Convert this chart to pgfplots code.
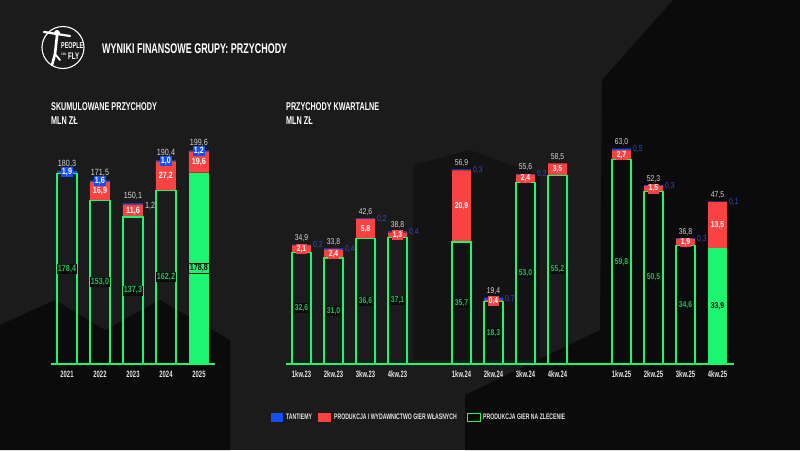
\documentclass[border=0pt]{standalone}
\usepackage{pgfplots}
\pgfplotsset{compat=1.18}
\usepackage{fontspec}
\setmainfont{Liberation Sans}
\newfontfamily\cond{Liberation Sans}[FakeStretch=0.64]
\newfontfamily\numf{Liberation Sans}[FakeStretch=0.8]

\definecolor{bg}{RGB}{27,27,27}
\definecolor{bgdark}{RGB}{11,11,11}
\definecolor{pgreen}{RGB}{28,245,112}
\definecolor{pgreentxt}{RGB}{24,196,88}
\definecolor{pred}{RGB}{250,66,66}
\definecolor{pblue}{RGB}{22,78,245}
\definecolor{pbluetxt}{RGB}{36,78,220}
\definecolor{ptot}{RGB}{212,212,212}
\definecolor{ptick}{RGB}{228,228,228}

\setlength{\fboxsep}{1.2pt}
\newcommand\nz[1]{\pgfmathfloatifflags{\pgfplotspointmeta}{0}{}{#1}}
\newcommand\nm{\pgfmathprintnumber{\pgfplotspointmeta}}

\pgfplotsset{
  numfmt/.style={
    /pgf/number format/fixed, /pgf/number format/fixed zerofill,
    /pgf/number format/precision=1, /pgf/number format/use comma,
    /pgf/number format/assume math mode=true,
  },
  pcf/.style={
    scale only axis, clip=false,
    ybar stacked, ymin=0,
    axis y line=none, axis x line*=bottom,
    x axis line style={draw=pgreen, line width=1.2pt},
    ytick=\empty, major tick length=0pt,
    xtick style={draw=none},
    xticklabel style={font=\cond\bfseries\fontsize{9.2}{10}\selectfont, text=ptick, anchor=base, yshift=-13.8pt},
    numfmt,
  },
  ovl/.style={
    scale only axis, clip=false, hide axis, ymin=0, numfmt,
  },
  midlab/.style={
    point meta=explicit,
    nodes near coords={\nz{#1}},
    every node near coord/.append style={anchor=center, inner sep=0pt},
  },
  toplab/.style={
    draw=none, mark=none, point meta=explicit,
    nodes near coords={\nz{#1}},
    every node near coord/.append style={anchor=base, inner sep=0pt},
  },
  sidelab/.style={
    point meta=explicit,
    nodes near coords={\nz{#1}},
    every node near coord/.append style={anchor=west, inner sep=0pt},
  },
}

\begin{document}
\begin{tikzpicture}
% background
\fill[bg] (0pt,0pt) rectangle (800pt,-450pt);
\fill[bgdark] (673pt,0pt) -- (800pt,0pt) -- (800pt,-450pt) -- (465pt,-450pt) -- (465pt,-395pt) -- (600pt,-330pt) -- (602pt,-80pt) -- cycle;
\fill[bgdark] (0pt,-325pt) -- (55pt,-300pt) -- (105pt,-330pt) -- (160pt,-300pt) -- (230pt,-340pt) -- (230pt,-450pt) -- (0pt,-450pt) -- cycle;
\fill[bgdark!50!bg] (413pt,-165pt) -- (470pt,-150pt) -- (540pt,-175pt) -- (540pt,-360pt) -- (413pt,-360pt) -- cycle;

% logo
\draw[white, line width=1.1pt] (63pt,-47.5pt) circle (21pt);
\fill[white] (57pt,-33pt) circle (3pt);
\draw[white, line width=2.2pt, line cap=round] (44pt,-32pt) -- (70pt,-36pt);
\draw[white, line width=2.6pt, line cap=round] (57pt,-36pt) -- (55pt,-54pt) -- (52pt,-65pt);
\draw[white, line width=1.8pt, line cap=round] (55pt,-54pt) -- (60pt,-60pt);
\node[anchor=base west, inner sep=0pt, text=white, font=\cond\bfseries\fontsize{8.5}{8.5}\selectfont] at (61pt,-48.5pt) {PEOPLE};
\node[anchor=base west, inner sep=0pt, text=white, font=\cond\bfseries\fontsize{3.5}{3.5}\selectfont] at (61pt,-55pt) {CAN};
\node[anchor=base west, inner sep=0pt, text=white, font=\cond\bfseries\fontsize{9.5}{9.5}\selectfont] at (68pt,-59.5pt) {FLY};

% titles
\node[anchor=base west, inner sep=0pt, text=white, font=\cond\bfseries\fontsize{14}{14}\selectfont] at (102pt,-53pt) {WYNIKI FINANSOWE GRUPY: PRZYCHODY};
\node[anchor=base west, inner sep=0pt, text=white, font=\cond\bfseries\fontsize{11.3}{12}\selectfont] at (51pt,-110pt) {SKUMULOWANE PRZYCHODY};
\node[anchor=base west, inner sep=0pt, text=white, font=\cond\bfseries\fontsize{11.3}{12}\selectfont] at (51pt,-124.5pt) {MLN ZŁ};
\node[anchor=base west, inner sep=0pt, text=white, font=\cond\bfseries\fontsize{11.3}{12}\selectfont] at (286pt,-110pt) {PRZYCHODY KWARTALNE};
\node[anchor=base west, inner sep=0pt, text=white, font=\cond\bfseries\fontsize{11.3}{12}\selectfont] at (286pt,-124.5pt) {MLN ZŁ};

% ---------- left chart: cumulative ----------
\begin{axis}[pcf, at={(50.5pt,-364pt)}, anchor=south west,
  width=165pt, height=235.4pt, xmin=-0.5, xmax=4.5, ymax=220, bar width=20pt,
  xtick={0,1,2,3,4}, xticklabels={2021,2022,2023,2024,2025},
  every node near coord/.append style={font=\numf\fontsize{9}{9}\selectfont},
]
\addplot[draw=pgreen, line width=1.2pt, fill=none,
  midlab={\colorbox{bgdark}{\textcolor{pgreentxt}{\bfseries\nm}}}]
  coordinates {(0,178.4)[178.4] (1,153.0)[153.0] (2,137.3)[137.3] (3,162.2)[162.2] (4,0)[0]};
\addplot[draw=none, fill=pgreen,
  midlab={\fcolorbox{bgdark}{pgreen}{\textcolor{bgdark}{\bfseries\nm}}}]
  coordinates {(0,0)[0] (1,0)[0] (2,0)[0] (3,0)[0] (4,178.8)[178.8]};
\addplot[draw=none, fill=pred,
  midlab={\colorbox{pred}{\textcolor{white}{\bfseries\nm}}}]
  coordinates {(0,0)[0] (1,16.9)[16.9] (2,11.6)[11.6] (3,27.2)[27.2] (4,19.6)[19.6]};
\addplot[draw=none, fill=pblue,
  midlab={\colorbox{pblue}{\textcolor{white}{\bfseries\nm}}}]
  coordinates {(0,1.9)[1.9] (1,1.6)[1.6] (2,1.2)[0] (3,1.0)[1.0] (4,1.2)[1.2]};
\end{axis}
% left labels overlay (totals and side label)
\begin{axis}[ovl, at={(50.5pt,-364pt)}, anchor=south west,
  width=165pt, height=235.4pt, xmin=-0.5, xmax=4.5, ymax=220,
  every node near coord/.append style={font=\numf\fontsize{9}{9}\selectfont},
]
\addplot[toplab={\textcolor{ptot}{\nm}}, every node near coord/.append style={yshift=5pt}]
  coordinates {(0,180.3)[180.3] (1,171.5)[171.5] (2,150.1)[150.1] (3,190.4)[190.4] (4,199.6)[199.6]};
\addplot[toplab={\textcolor{ptot}{\nm}}, every node near coord/.append style={anchor=west, xshift=12pt, yshift=-3pt}]
  coordinates {(2,150.1)[1.2]};
\end{axis}

% ---------- right chart: quarterly ----------
\begin{axis}[pcf, at={(285.5pt,-364pt)}, anchor=south west,
  width=448pt, height=239.4pt, xmin=-0.5, xmax=13.5, ymax=70, bar width=19pt,
  xtick={0,1,2,3,5,6,7,8,10,11,12,13},
  xticklabels={1kw.23,2kw.23,3kw.23,4kw.23,1kw.24,2kw.24,3kw.24,4kw.24,1kw.25,2kw.25,3kw.25,4kw.25},
  every node near coord/.append style={font=\numf\fontsize{8.5}{9}\selectfont},
]
\addplot[draw=pgreen, line width=1.2pt, fill=none,
  midlab={\colorbox{bgdark}{\textcolor{pgreentxt}{\bfseries\nm}}}]
  coordinates {(0,32.6)[32.6] (1,31.0)[31.0] (2,36.6)[36.6] (3,37.1)[37.1]
               (5,35.7)[35.7] (6,18.3)[18.3] (7,53.0)[53.0] (8,55.2)[55.2]
               (10,59.8)[59.8] (11,50.5)[50.5] (12,34.6)[34.6] (13,0)[0]};
\addplot[draw=none, fill=pgreen,
  midlab={\textcolor{bgdark}{\bfseries\nm}}]
  coordinates {(0,0)[0] (1,0)[0] (2,0)[0] (3,0)[0]
               (5,0)[0] (6,0)[0] (7,0)[0] (8,0)[0]
               (10,0)[0] (11,0)[0] (12,0)[0] (13,33.9)[33.9]};
\addplot[draw=none, fill=pred,
  midlab={\colorbox{pred}{\textcolor{white}{\bfseries\nm}}}]
  coordinates {(0,2.1)[2.1] (1,2.4)[2.4] (2,5.8)[5.8] (3,1.3)[1.3]
               (5,20.9)[20.9] (6,0.4)[0.4] (7,2.4)[2.4] (8,3.5)[3.5]
               (10,2.7)[2.7] (11,1.5)[1.5] (12,1.9)[1.9] (13,13.5)[13.5]};
\addplot[draw=none, fill=pblue, sidelab={\textcolor{pbluetxt}{\nm}},
  every node near coord/.append style={xshift=11.5pt}]
  coordinates {(0,0.2)[0.2] (1,0.4)[0.4] (2,0.2)[0.2] (3,0.4)[0.4]
               (5,0.3)[0.3] (6,0.7)[0.7] (7,0.2)[0.2] (8,0)[0]
               (10,0.5)[0.5] (11,0.3)[0.3] (12,0.3)[0.3] (13,0.1)[0.1]};
\end{axis}
% right totals overlay
\begin{axis}[ovl, at={(285.5pt,-364pt)}, anchor=south west,
  width=448pt, height=239.4pt, xmin=-0.5, xmax=13.5, ymax=70,
  every node near coord/.append style={font=\numf\fontsize{8.5}{9}\selectfont},
]
\addplot[toplab={\textcolor{ptot}{\nm}}, every node near coord/.append style={yshift=4pt}]
  coordinates {(0,34.9)[34.9] (1,33.8)[33.8] (2,42.6)[42.6] (3,38.8)[38.8]
               (5,56.9)[56.9] (6,19.4)[19.4] (7,55.6)[55.6] (8,58.7)[58.5]
               (10,63.0)[63.0] (11,52.3)[52.3] (12,36.8)[36.8] (13,47.5)[47.5]};
\end{axis}

% legend
\fill[pblue] (271pt,-412.5pt) rectangle (283pt,-421.5pt);
\node[anchor=west, inner sep=0pt, text=ptick, font=\cond\bfseries\fontsize{8}{8}\selectfont] at (286pt,-417pt) {TANTIEMY};
\fill[pred] (318pt,-412.5pt) rectangle (331pt,-421.5pt);
\node[anchor=west, inner sep=0pt, text=ptick, font=\cond\bfseries\fontsize{8}{8}\selectfont] at (334pt,-417pt) {PRODUKCJA I WYDAWNICTWO GIER WŁASNYCH};
\draw[pgreen, line width=1pt] (467.5pt,-413pt) rectangle (480pt,-421pt);
\node[anchor=west, inner sep=0pt, text=ptick, font=\cond\bfseries\fontsize{8}{8}\selectfont] at (483pt,-417pt) {PRODUKCJA GIER NA ZLECENIE};
\end{tikzpicture}
\end{document}
